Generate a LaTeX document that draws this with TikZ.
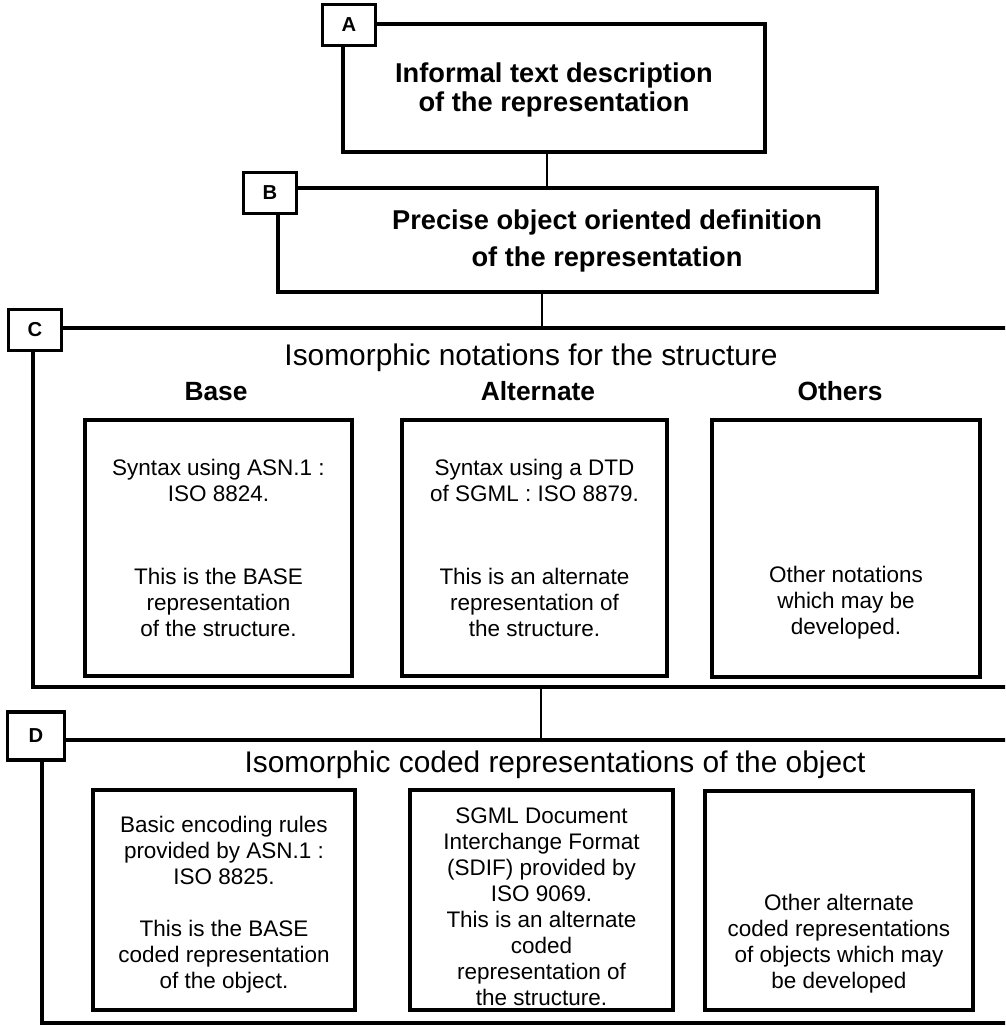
\documentclass[tikz,border=0pt]{standalone}
\usepackage{fontspec}
\setmainfont{Liberation Sans}
\usetikzlibrary{positioning,fit}
\tikzstyle{frame}   = [draw, line width=2.2pt, inner sep=0pt]
\tikzstyle{tag}     = [draw, fill=white, line width=2.2pt, minimum width=1.06cm, minimum height=0.82cm, inner sep=0pt, font=\bfseries\fontsize{11.5}{13}\selectfont]
\tikzstyle{cell}    = [draw, line width=1.8pt, inner sep=0pt]
\tikzstyle{title}   = [align=center, inner sep=0pt, font=\bfseries\fontsize{15.5}{17}\selectfont]
\tikzstyle{head}    = [inner sep=0pt, anchor=base, font=\bfseries\fontsize{15}{18}\selectfont]
\tikzstyle{caption} = [inner sep=0pt, anchor=base, font=\fontsize{17}{20}\selectfont]
\tikzstyle{note}    = [align=center, inner sep=0pt, font=\fontsize{12.8}{14.8}\selectfont]
\tikzstyle{link}    = [line width=1.6pt]

\begin{document}
\begin{tikzpicture}[x=0.02cm,y=-0.02cm]
		\useasboundingbox (0,0) rectangle (1005,1027);
		\clip (0,0) rectangle (1005,1027);

		\node[frame, fit={(343,24) (765,152)}] (A) {};
		\node[frame, fit={(278,188) (877,292)}] (B) {};
		\node[frame, fit={(33,328) (1040,687)}] (C) {};
		\node[frame, fit={(42,740) (1040,1023)}] (D) {};

		\coordinate (ab) at (547,0);
		\coordinate (bc) at (542,0);
		\coordinate (cd) at (541,0);
		\draw[link] (A.south -| ab) -- (B.north -| ab);
		\draw[link] (B.south -| bc) -- (C.north -| bc);
		\draw[link] (C.south -| cd) -- (D.north -| cd);

		\node[tag] (Atag) at (349,25) {A};
		\node[tag] (Btag) at (270,193) {B};
		\node[tag] (Ctag) at (35,330) {C};
		\node[tag, minimum width=1.14cm, minimum height=0.96cm] (Dtag) at (36,736) {D};

		\node[title] (Atext) at (554,90) {Informal text description\\of the representation};
		\node[title] (Btext) at (607,241) {Precise object oriented definition\\[4pt]of the representation};

		\node[caption] (Ctitle) at (531,365) {Isomorphic notations for the structure};
		\node[head] (basehead) at (216,400) {Base};
		\node[head] (althead) at (538,400) {Alternate};
		\node[head] (othhead) at (840,400) {Others};

		\node[cell, fit={(85,420) (352,676)}] (c1) {};
		\node[cell, fit={(402,420) (667,676)}] (c2) {};
		\node[cell, fit={(712,420) (980,677)}] (c3) {};
		\node[note] (c1text) at (c1.center) {Syntax using ASN.1 :\\ISO 8824.\\[32pt]This is the BASE\\representation\\of the structure.};
		\node[note] (c2text) at (c2.center) {Syntax using a DTD\\of SGML : ISO 8879.\\[32pt]This is an alternate\\representation of\\the structure.};
		\node[note] (c3text) at (c3.center) {\vphantom{Syntax}\\\vphantom{Syntax}\\[32pt]Other notations\\which may be\\developed.};

		\node[caption] (Dtitle) at (555,772) {Isomorphic coded representations of the object};

		\node[cell, fit={(93,790) (355,1010)}] (d1) {};
		\node[cell, fit={(410,790) (673,1010)}] (d2) {};
		\node[cell, fit={(705,791) (973,1010)}] (d3) {};
		\node[note, yshift=-0.09cm] (d1text) at (d1.center) {Basic encoding rules\\provided by ASN.1 :\\ISO 8825.\\[15pt]This is the BASE\\coded representation\\of the object.};
		\node[note, yshift=-0.14cm] (d2text) at (d2.center) {SGML Document\\Interchange Format\\(SDIF) provided by\\ISO 9069.\\This is an alternate\\coded\\representation of\\the structure.};
		\node[note, yshift=-0.09cm] (d3text) at (d3.center) {\vphantom{Basic}\\\vphantom{Basic}\\\vphantom{Basic}\\Other alternate\\coded representations\\of objects which may\\be developed};
\end{tikzpicture}
\end{document}
